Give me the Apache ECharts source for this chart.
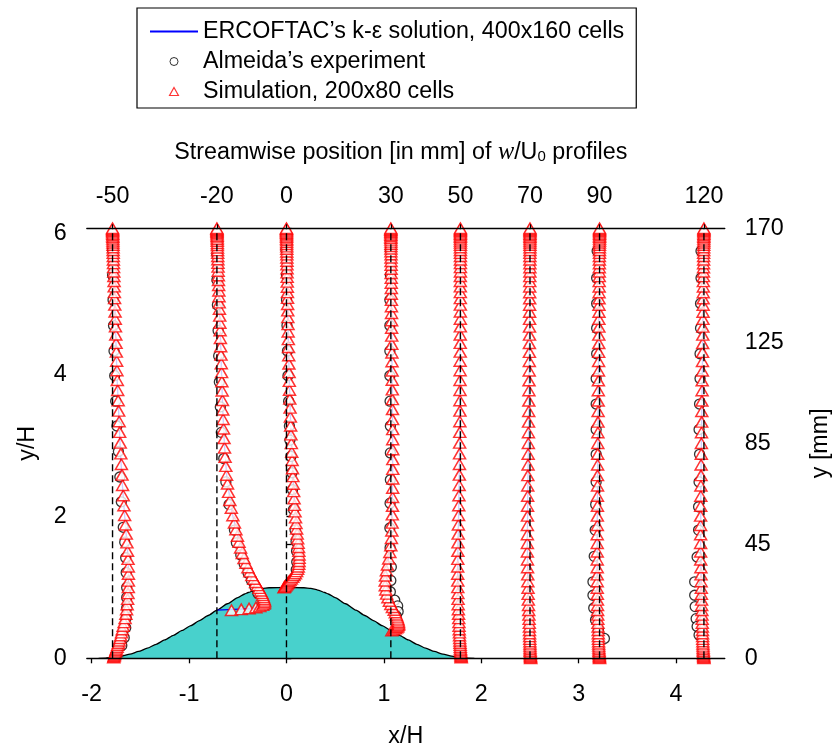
<!DOCTYPE html>
<html><head><meta charset="utf-8">
<script src="https://cdn.jsdelivr.net/npm/echarts@6/dist/echarts.min.js"></script>
<style>html,body{margin:0;padding:0;background:#fff}#c{width:834px;height:753px}</style>
</head><body><div id="c"></div>
<script>
// ---- geometry / categories ----
const H_MM = 28;                       // hill height in mm
const TOP_MM = 170;                    // channel height in mm
const profileMM = [-50, -20, 0, 30, 50, 70, 90, 120];
const surfaceY = [0.012, 0.679, 1.0, 0.393, 0.012, 0, 0, 0];   // y/H of the wall under each profile
const xTicks = [-2, -1, 0, 1, 2, 3, 4];
const yTicks = [0, 2, 4, 6];
const yTicksMM = [0, 45, 85, 125, 170];

// hill outline (x/H, y/H)
const hillX = [-1.929,-1.857,-1.786,-1.696,-1.607,-1.518,-1.429,-1.339,-1.25,-1.161,-1.071,-0.982,-0.893,-0.804,-0.714,-0.607,-0.5,-0.429,-0.393,-0.321,-0.25,-0.179,0,0.179,0.25,0.321,0.393,0.429,0.5,0.607,0.714,0.804,0.893,0.982,1.071,1.161,1.25,1.339,1.429,1.518,1.607,1.696,1.786,1.857,1.929];
const hillY = [0,0.003,0.012,0.031,0.059,0.097,0.143,0.198,0.259,0.325,0.393,0.462,0.532,0.604,0.679,0.770,0.857,0.908,0.929,0.964,0.986,0.996,1.0,0.996,0.986,0.964,0.929,0.908,0.857,0.770,0.679,0.604,0.532,0.462,0.393,0.325,0.259,0.198,0.143,0.097,0.059,0.031,0.012,0.003,0];

// simulation mesh: normalized wall-normal node positions (80 cells)
const gridEta = [0,.0022,.0045,.0072,.0100,.0132,.0166,.0203,.0244,.0289,
 .0337,.0390,.0447,.0510,.0578,.0651,.0732,.0818,.0911,.1011,
 .1119,.1235,.1359,.1492,.1634,.1785,.1945,.2113,.2292,.2479,
 .2675,.2880,.3093,.3313,.3541,.3773,.4012,.4255,.4501,.4750,
 .5,.5250,.5499,.5745,.5988,.6227,.6459,.6687,.6907,.7120,
 .7325,.7521,.7708,.7887,.8055,.8215,.8366,.8508,.8641,.8765,
 .8881,.8989,.9089,.9182,.9268,.9349,.9422,.9490,.9553,.9610,
 .9663,.9711,.9756,.9797,.9834,.9868,.9900,.9928,.9955,.9978,1];

// simulation profile displacements (x/H) at each node
const simDx_m50 = [.012,.015,.018,.022,.026,.030,.035,.040,.047,.053,
 .061,.068,.076,.084,.092,.100,.109,.119,.129,.137,
 .144,.150,.155,.159,.162,.163,.163,.162,.159,.154,
 .148,.141,.133,.124,.117,.110,.103,.097,.091,.085,
 .079,.073,.068,.063,.058,.053,.049,.045,.042,.039,
 .036,.033,.030,.028,.026,.023,.021,.019,.017,.016,
 .014,.013,.011,.010,.009,.008,.007,.006,.006,.005,
 .004,.004,.003,.003,.002,.002,.001,.001,.001,0,0];
const simDx_m20 = [.15,.25,.33,.40,.44,.47,.485,.49,.49,.485,
 .478,.47,.46,.447,.432,.415,.397,.378,.358,.338,
 .318,.298,.278,.26,.243,.227,.211,.195,.18,.164,
 .148,.133,.12,.109,.099,.091,.084,.078,.073,.068,
 .064,.060,.057,.054,.051,.048,.045,.042,.039,.036,
 .033,.031,.029,.026,.024,.022,.020,.018,.016,.015,
 .013,.012,.011,.010,.009,.008,.007,.006,.005,.005,
 .004,.004,.003,.003,.002,.002,.001,.001,.001,0,0];
const simDx_0 = [-.025,-.018,-.01,-.002,.006,.015,.025,.037,.05,.064,
 .078,.092,.104,.114,.121,.126,.129,.13,.129,.127,
 .124,.12,.115,.11,.104,.098,.093,.088,.083,.078,
 .074,.070,.066,.062,.058,.054,.050,.046,.043,.040,
 .037,.034,.031,.029,.027,.025,.023,.021,.019,.017,
 .016,.014,.013,.012,.011,.010,.009,.008,.007,.006,
 .006,.005,.005,.004,.004,.003,.003,.003,.002,.002,
 .002,.001,.001,.001,.001,0,0,0,0,0,0];
const simDx_30 = [.01,.03,.048,.062,.072,.078,.08,.079,.076,.071,
 .064,.056,.046,.034,.016,0,-.015,-.03,-.043,-.052,
 -.057,-.058,-.055,-.046,-.035,-.022,-.01,0,.006,.010,
 .013,.015,.017,.018,.019,.020,.020,.020,.020,.019,
 .019,.018,.017,.016,.015,.014,.013,.012,.011,.010,
 .009,.008,.008,.007,.006,.006,.005,.005,.004,.004,
 .003,.003,.003,.002,.002,.002,.001,.001,.001,.001,
 .001,0,0,0,0,0,0,0,0,0,0];
const simDx_50 = [.008,.007,.006,.005,.004,.003,.002,0,-.001,-.002,
 -.004,-.005,-.007,-.009,-.010,-.012,-.014,-.015,-.017,-.019,
 -.021,-.023,-.024,-.026,-.027,-.027,-.028,-.028,-.027,-.026,
 -.025,-.023,-.021,-.019,-.017,-.015,-.013,-.011,-.010,-.009,
 -.008,-.007,-.006,-.005,-.005,-.004,-.004,-.003,-.003,-.002,
 -.002,-.002,-.001,-.001,-.001,-.001,-.001,-.001,-.001,-.001,
 -.001,0,0,0,0,0,0,0,0,0,
 0,0,0,0,0,0,0,0,0,0,0];
const simDx_70 = [.007,.006,.005,.004,.004,.003,.002,.001,.001,0,
 0,-.001,-.002,-.003,-.004,-.005,-.006,-.007,-.009,-.011,
 -.013,-.015,-.017,-.019,-.020,-.022,-.023,-.025,-.026,-.027,
 -.027,-.027,-.027,-.026,-.025,-.024,-.023,-.022,-.020,-.019,
 -.017,-.016,-.015,-.013,-.012,-.011,-.010,-.008,-.007,-.006,
 -.006,-.005,-.005,-.004,-.004,-.004,-.003,-.003,-.003,-.002,
 -.002,-.001,-.001,-.001,-.001,-.001,-.001,0,0,0,
 0,0,0,0,0,0,0,0,0,0,0];
const simDx_90 = [0,-.001,-.002,-.002,-.003,-.004,-.005,-.006,-.007,-.008,
 -.009,-.010,-.011,-.012,-.013,-.014,-.015,-.016,-.018,-.019,
 -.020,-.021,-.022,-.023,-.024,-.024,-.024,-.024,-.024,-.024,
 -.024,-.024,-.023,-.023,-.022,-.022,-.021,-.021,-.020,-.019,
 -.018,-.017,-.016,-.015,-.014,-.013,-.012,-.011,-.010,-.009,
 -.008,-.008,-.007,-.007,-.006,-.006,-.005,-.005,-.004,-.004,
 -.003,-.003,-.003,-.002,-.002,-.002,-.001,-.001,-.001,-.001,
 -.001,0,0,0,0,0,0,0,0,0,0];
const simDx_120 = [0,-.001,-.002,-.003,-.004,-.005,-.006,-.007,-.008,-.009,
 -.010,-.011,-.012,-.013,-.014,-.015,-.016,-.017,-.018,-.020,
 -.021,-.023,-.024,-.026,-.027,-.029,-.030,-.031,-.033,-.034,
 -.034,-.034,-.034,-.034,-.033,-.032,-.031,-.030,-.029,-.027,
 -.026,-.025,-.023,-.022,-.021,-.019,-.018,-.016,-.015,-.014,
 -.013,-.012,-.011,-.010,-.009,-.008,-.008,-.007,-.006,-.006,
 -.005,-.005,-.004,-.004,-.003,-.003,-.003,-.002,-.002,-.002,
 -.001,-.001,-.001,-.001,-.001,0,0,0,0,0,0];

// Almeida experiment (y/H and displacement x/H)
const expProfilesMM = [-50, -20, 0, 30, 90, 120];
const expY_m50 = [5.77,5.41,5.06,4.70,4.34,3.99,3.63,3.28,2.92,2.56,2.21,1.85,1.64,1.42,1.21,1.00,0.86,0.71,0.57,0.43,0.29,0.18];
const expDx_m50 = [0,0,.005,.01,.015,.022,.032,.045,.06,.075,.09,.11,.125,.135,.14,.145,.145,.145,.14,.135,.12,.095];
const expY_m20 = [5.70,5.34,4.99,4.63,4.27,3.90,3.55,3.19,2.82,2.49,2.17,1.81,1.63,1.46,1.33,1.20,1.10,1.01,0.92];
const expDx_m20 = [0,0,.005,.012,.018,.025,.035,.045,.07,.092,.125,.18,.20,.245,.28,.32,.355,.39,.42];
const expY_0 = [5.77,5.41,5.06,4.70,4.34,3.99,3.63,3.28,3.08,2.85,2.62,2.38,2.10,1.81,1.65,1.51,1.36,1.25,1.15];
const expDx_0 = [-.005,0,0,.005,.01,.015,.022,.03,.035,.045,.055,.062,.072,.088,.098,.103,.105,.1,.09];
const expY_30 = [5.77,5.41,5.06,4.70,4.34,3.99,3.63,3.28,2.90,2.52,2.19,1.84,1.56,1.29,1.10,0.94,0.82,0.74,0.66,0.60];
const expDx_30 = [-.005,-.005,-.01,-.01,-.01,-.01,-.008,-.005,-.005,-.005,-.008,-.01,-.008,.005,0,-.005,.04,.07,.075,.055];
const expY_90 = [5.75,5.37,5.01,4.66,4.30,3.95,3.59,3.23,2.88,2.49,2.17,1.81,1.44,1.08,0.89,0.71,0.54,0.40,0.28];
const expDx_90 = [-.025,-.03,-.03,-.03,-.03,-.035,-.035,-.035,-.035,-.035,-.04,-.045,-.055,-.068,-.068,-.06,-.042,-.012,.05];
const expY_120 = [5.75,5.37,5.01,4.66,4.30,3.95,3.59,3.23,2.88,2.49,2.14,1.81,1.43,1.08,0.89,0.73,0.56,0.45,0.33];
const expDx_120 = [-.03,-.03,-.035,-.035,-.04,-.04,-.045,-.05,-.045,-.05,-.055,-.055,-.07,-.095,-.095,-.09,-.08,-.07,-.05];

// ERCOFTAC k-eps solution (y/H and displacement x/H)
const ercY_m50 = [0.012,0.1,0.3,0.6,0.9,1.2,1.5,2.0,2.5,3.0,3.5,4.0,4.5,5.0,5.5,6.0714];
const ercDx_m50 = [0,0.03,0.08,0.13,0.16,0.165,0.155,0.125,0.098,0.078,0.062,0.045,0.034,0.023,0.012,0];
const ercY_m20 = [0.679,0.70,0.72,0.78,0.9,1.13,1.4,1.7,2.0,2.5,3.0,3.5,4.0,4.5,5.0,5.5,6.0714];
const ercDx_m20 = [0,0.35,0.5,0.505,0.48,0.40,0.29,0.22,0.165,0.105,0.078,0.06,0.048,0.037,0.025,0.012,0];
const ercY_0 = [1.0,1.02,1.06,1.12,1.2,1.3,1.4,1.6,1.9,2.3,2.8,3.3,4.0,4.5,5.0,5.5,6.0714];
const ercDx_0 = [0,-0.02,0.01,0.05,0.095,0.122,0.13,0.122,0.1,0.077,0.058,0.043,0.027,0.019,0.012,0.006,0];
const ercY_30 = [0.393,0.42,0.48,0.58,0.72,0.9,1.1,1.3,1.6,2.0,2.5,3.0,4.0,5.0,6.0714];
const ercDx_30 = [0,0.05,0.08,0.065,0.018,-0.04,-0.058,-0.04,0,0.01,0.018,0.019,0.013,0.006,0];
const ercY_50 = [0.012,0.2,0.6,1.0,1.5,2.0,3.0,4.0,6.0714];
const ercDx_50 = [0,-0.004,-0.019,-0.027,-0.026,-0.019,-0.008,-0.003,0];
const ercY_70 = [0,0.5,1.0,1.6,2.5,3.5,4.5,6.0714];
const ercDx_70 = [0,-0.007,-0.02,-0.027,-0.021,-0.012,-0.006,0];
const ercY_90 = [0,0.5,1.0,1.8,3.0,4.0,5.0,6.0714];
const ercDx_90 = [0,-0.018,-0.024,-0.024,-0.018,-0.012,-0.006,0];
const ercY_120 = [0,0.5,1.0,1.6,2.5,3.5,4.5,5.5,6.0714];
const ercDx_120 = [0,-0.021,-0.028,-0.034,-0.031,-0.022,-0.012,-0.005,0];

// ---- build series data ----
const TOP = TOP_MM / H_MM;
const NAME_ERC = 'ERCOFTAC\u2019s k-\u03b5 solution, 400x160 cells';
const NAME_EXP = 'Almeida\u2019s experiment';
const NAME_SIM = 'Simulation, 200x80 cells';
const FONT = 'Liberation Sans, Arial, Helvetica, sans-serif';
const FS = 23.3;

const simDx = [simDx_m50, simDx_m20, simDx_0, simDx_30, simDx_50, simDx_70, simDx_90, simDx_120];
const simData = [];
profileMM.forEach((mm, p) => {
  const x0 = mm / H_MM, ys = surfaceY[p];
  gridEta.forEach((e, i) => simData.push([x0 + simDx[p][i], ys + e * (TOP - ys)]));
});

const expYs = [expY_m50, expY_m20, expY_0, expY_30, expY_90, expY_120];
const expDxs = [expDx_m50, expDx_m20, expDx_0, expDx_30, expDx_90, expDx_120];
const expData = [];
expProfilesMM.forEach((mm, p) => {
  expYs[p].forEach((y, i) => expData.push([mm / H_MM + expDxs[p][i], y]));
});

const ercYs = [ercY_m50, ercY_m20, ercY_0, ercY_30, ercY_50, ercY_70, ercY_90, ercY_120];
const ercDxs = [ercDx_m50, ercDx_m20, ercDx_0, ercDx_30, ercDx_50, ercDx_70, ercDx_90, ercDx_120];

const series = [];
series.push({
  type: 'line', name: 'hill', data: hillX.map((x, i) => [x, hillY[i]]),
  symbol: 'none', smooth: 0.2, smoothMonotone: 'x', z: 1, silent: true,
  lineStyle: { color: '#000', width: 1.3 },
  areaStyle: { color: '#48D1CC', opacity: 1 }
});
profileMM.forEach((mm, p) => {
  series.push({
    type: 'line', name: NAME_ERC, z: 2, symbol: 'none', showSymbol: false, silent: true,
    data: ercYs[p].map((y, i) => [mm / H_MM + ercDxs[p][i], y]),
    lineStyle: { color: '#0000FF', width: 1.3 }, itemStyle: { color: '#0000FF' }
  });
});
series.push({
  type: 'scatter', name: NAME_EXP, data: expData, z: 3, symbol: 'circle', symbolSize: 10, silent: true,
  itemStyle: { color: '#fff', borderColor: '#000', borderWidth: 1.3 }
});
series.push({
  type: 'scatter', name: NAME_SIM, data: simData, z: 4, symbol: 'triangle', symbolSize: [12, 10.5], silent: true,
  itemStyle: { color: '#fff', borderColor: '#FF0000', borderWidth: 1.5 }
});
profileMM.forEach((mm) => {
  series.push({
    type: 'line', name: 'dash', z: 10, symbol: 'none', silent: true,
    data: [[mm / H_MM, 0], [mm / H_MM, TOP]],
    lineStyle: { color: '#000', width: 1.4, type: [7, 4] }
  });
});

const chart = echarts.init(document.getElementById('c'));
chart.setOption({
  animation: false,
  backgroundColor: '#fff',
  textStyle: { fontFamily: FONT, color: '#000' },
  grid: { left: 86.8, right: 109.2, top: 228.3, bottom: 94.7, outerBoundsMode: 'none' },
  legend: {
    orient: 'vertical', left: 137, top: 8, itemWidth: 48, itemHeight: 8, itemGap: 7,
    padding: [12, 12, 5, 13], borderColor: '#000', borderWidth: 1.2, backgroundColor: '#fff',
    selectedMode: false, symbolKeepAspect: true,
    textStyle: { fontSize: FS, color: '#000', fontFamily: FONT },
    data: [
      { name: NAME_ERC, icon: 'path://M0,0H48V2H0Z', itemStyle: { color: '#0000FF', borderWidth: 0 } },
      { name: NAME_EXP, icon: 'circle', itemStyle: { color: '#fff', borderColor: '#000', borderWidth: 1 } },
      { name: NAME_SIM, icon: 'path://M5,0L10,9L0,9Z', itemStyle: { color: '#fff', borderColor: '#FF0000', borderWidth: 1.2 } }
    ]
  },
  xAxis: [{
    type: 'value', position: 'bottom', min: -2.05, max: 4.5, z: 20,
    name: 'x/H', nameLocation: 'middle', nameGap: 67,
    nameTextStyle: { fontSize: FS, color: '#000', fontFamily: FONT },
    axisLine: { show: true, onZero: false, lineStyle: { color: '#000', width: 1.3 } },
    axisTick: { show: true, customValues: xTicks, length: 5, lineStyle: { color: '#000', width: 1.3 } },
    axisLabel: { customValues: xTicks, fontSize: FS, color: '#000', margin: 25, fontFamily: FONT },
    splitLine: { show: false }
  }, {
    type: 'value', position: 'top', min: -2.05 * H_MM, max: 4.5 * H_MM, z: 20,
    name: 'Streamwise position [in mm] of {it|w}/U{sub|0} profiles',
    nameLocation: 'middle', nameGap: 64,
    nameTextStyle: {
      fontSize: FS, color: '#000', fontFamily: FONT, padding: [0, 10, 0, 0],
      rich: {
        it: { fontFamily: 'Liberation Serif, Times New Roman, serif', fontStyle: 'italic', fontSize: FS + 1, color: '#000' },
        sub: { fontSize: 15, verticalAlign: 'bottom', lineHeight: 12, color: '#000', fontFamily: FONT }
      }
    },
    axisLine: { show: true, onZero: false, lineStyle: { color: '#000', width: 1.3 } },
    axisTick: { show: true, customValues: profileMM, length: 4, lineStyle: { color: '#000', width: 1.2 } },
    axisLabel: { customValues: profileMM, fontSize: FS, color: '#000', margin: 20, fontFamily: FONT },
    splitLine: { show: false }
  }],
  yAxis: [{
    type: 'value', position: 'left', min: 0, max: TOP,
    name: 'y/H', nameLocation: 'middle', nameGap: 48, nameRotate: 90,
    nameTextStyle: { fontSize: FS, color: '#000', fontFamily: FONT },
    axisLine: { show: false },
    axisTick: { show: true, inside: true, customValues: yTicks, length: 4.5, lineStyle: { color: '#000', width: 1.3 } },
    axisLabel: { customValues: yTicks, fontSize: FS, color: '#000', margin: 20, fontFamily: FONT },
    splitLine: { show: false }
  }, {
    type: 'value', position: 'right', min: 0, max: TOP_MM,
    name: 'y [mm]', nameLocation: 'middle', nameGap: 84, nameRotate: 90,
    nameTextStyle: { fontSize: FS, color: '#000', fontFamily: FONT },
    axisLine: { show: false },
    axisTick: { show: true, customValues: yTicksMM, length: 5, lineStyle: { color: '#000', width: 1.3 } },
    axisLabel: { customValues: yTicksMM, fontSize: FS, color: '#000', margin: 20, fontFamily: FONT },
    splitLine: { show: false }
  }],
  series: series
});
</script>
</body></html>
